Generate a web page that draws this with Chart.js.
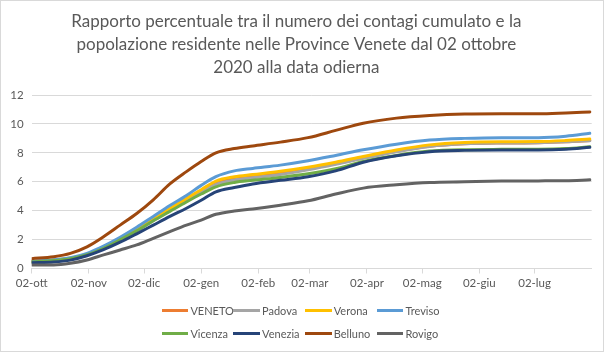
<!DOCTYPE html>
<html>
<head>
<meta charset="utf-8">
<title>Contagi Province Venete</title>
<script src="https://cdn.jsdelivr.net/npm/chart.js"></script>
<style>
  body { margin: 0; background: #fff; }
  #wrap { position: relative; width: 604px; height: 352px; box-sizing: border-box; border: 1px solid #d9d9d9; background: #fff; }
  canvas { display: block; }
  #legend { position: absolute; left: 160.7px; top: 298.6px; display: grid; grid-template-columns: repeat(4, 71.7px); grid-auto-rows: 22.7px; }
  #legend .item { display: flex; align-items: center; font-family: Lato, sans-serif; font-size: 11px; color: #595959; white-space: nowrap; }
  #legend .swatch { width: 26.7px; height: 3px; margin-right: 2px; flex: none; }
</style>
</head>
<body>
<div id="wrap">
  <canvas id="chart" width="602" height="350"></canvas>
  <div id="legend"></div>
</div>
<script>
// giorni trascorsi dal 02-ott-2020
const days = [0, 12, 21, 30, 39, 48, 57, 66, 75, 84, 92, 100, 110, 120, 135, 150, 165, 180, 198, 216, 235, 255, 275, 290, 303];

const tickDays = [0, 31, 61, 92, 123, 151, 182, 212, 243, 273];
const tickLabels = ['02-ott', '02-nov', '02-dic', '02-gen', '02-feb', '02-mar', '02-apr', '02-mag', '02-giu', '02-lug'];

const veneto  = [0.48, 0.56, 0.70, 0.95, 1.40, 2.00, 2.65, 3.35, 4.05, 4.75, 5.35, 5.90, 6.20, 6.35, 6.58, 6.88, 7.25, 7.65, 8.10, 8.45, 8.62, 8.68, 8.70, 8.76, 8.85];
const padova  = [0.46, 0.54, 0.68, 0.93, 1.38, 1.97, 2.62, 3.30, 4.00, 4.68, 5.28, 5.82, 6.12, 6.28, 6.50, 6.82, 7.20, 7.62, 8.08, 8.44, 8.62, 8.68, 8.70, 8.76, 8.84];
const verona  = [0.50, 0.58, 0.72, 0.98, 1.45, 2.05, 2.72, 3.45, 4.15, 4.85, 5.45, 6.05, 6.35, 6.50, 6.72, 7.00, 7.35, 7.75, 8.20, 8.55, 8.72, 8.77, 8.78, 8.85, 8.95];
const treviso = [0.50, 0.60, 0.75, 1.05, 1.55, 2.16, 2.85, 3.60, 4.35, 5.05, 5.75, 6.35, 6.75, 6.92, 7.15, 7.45, 7.82, 8.21, 8.60, 8.88, 9.00, 9.05, 9.05, 9.15, 9.35];
const vicenza = [0.45, 0.55, 0.68, 0.95, 1.40, 1.98, 2.60, 3.30, 3.95, 4.60, 5.15, 5.65, 5.95, 6.10, 6.30, 6.55, 6.90, 7.40, 7.82, 8.12, 8.22, 8.24, 8.25, 8.30, 8.42];
const venezia = [0.40, 0.45, 0.58, 0.88, 1.30, 1.82, 2.40, 3.00, 3.60, 4.17, 4.72, 5.30, 5.60, 5.85, 6.10, 6.35, 6.75, 7.35, 7.80, 8.08, 8.17, 8.20, 8.20, 8.25, 8.38];
const belluno = [0.68, 0.82, 1.05, 1.50, 2.20, 3.00, 3.80, 4.75, 5.85, 6.70, 7.40, 8.00, 8.30, 8.48, 8.74, 9.05, 9.55, 10.05, 10.40, 10.58, 10.68, 10.70, 10.70, 10.76, 10.83];
const rovigo  = [0.25, 0.25, 0.36, 0.59, 0.94, 1.28, 1.63, 2.09, 2.55, 3.00, 3.35, 3.75, 3.98, 4.12, 4.38, 4.68, 5.15, 5.56, 5.79, 5.95, 6.00, 6.05, 6.06, 6.07, 6.13];

const names  = ['VENETO', 'Padova', 'Verona', 'Treviso', 'Vicenza', 'Venezia', 'Belluno', 'Rovigo'];
const series = [veneto, padova, verona, treviso, vicenza, venezia, belluno, rovigo];
const colors = ['#ED7D31', '#A5A5A5', '#FFC000', '#5B9BD5', '#70AD47', '#264478', '#9E480E', '#636363'];

const datasets = names.map((name, i) => ({
  label: name,
  data: days.map((d, j) => ({ x: d, y: series[i][j] })),
  borderColor: colors[i],
  backgroundColor: colors[i],
  borderWidth: 3,
  pointRadius: 0,
  cubicInterpolationMode: 'monotone',
  borderCapStyle: 'round',
  borderJoinStyle: 'round',
  order: names.length - i   // later series on top, as in the original
}));

// legend in HTML so it can sit in two rows of four
const htmlLegend = {
  id: 'htmlLegend',
  afterUpdate(chart) {
    const box = document.getElementById('legend');
    box.innerHTML = '';
    chart.data.datasets.forEach(ds => {
      const item = document.createElement('div');
      item.className = 'item';
      const sw = document.createElement('span');
      sw.className = 'swatch';
      sw.style.background = ds.borderColor;
      item.appendChild(sw);
      item.appendChild(document.createTextNode(ds.label));
      box.appendChild(item);
    });
  }
};

const textColor = '#595959';
const gridColor = '#d9d9d9';

new Chart(document.getElementById('chart'), {
  type: 'line',
  data: { datasets },
  plugins: [htmlLegend],
  options: {
    responsive: false,
    animation: false,
    layout: { padding: { left: 0, right: 11.3, top: 0, bottom: 58.5 } },
    plugins: {
      legend: { display: false },
      tooltip: { enabled: false },
      title: {
        display: true,
        text: [
          'Rapporto percentuale tra il numero dei contagi cumulato e la',
          'popolazione residente nelle Province Venete dal 02 ottobre',
          '2020 alla data odierna'
        ],
        color: textColor,
        font: { family: 'Lato', size: 17, weight: 'normal', lineHeight: '23px' },
        padding: { top: 9, bottom: 16 }
      }
    },
    scales: {
      x: {
        type: 'linear',
        min: 0,
        max: 304,
        afterBuildTicks: scale => { scale.ticks = tickDays.map(v => ({ value: v })); },
        afterFit: scale => { scale.height = 24; },
        ticks: {
          autoSkip: false,
          maxRotation: 0,
          padding: 3,
          color: textColor,
          font: { family: 'Lato', size: 11.5 },
          callback: v => tickLabels[tickDays.indexOf(v)]
        },
        grid: { drawOnChartArea: false, drawTicks: true, tickLength: 5, color: gridColor },
        border: { display: true, color: gridColor }
      },
      y: {
        min: 0,
        max: 12,
        afterFit: scale => { scale.width = 30.7; },
        ticks: { stepSize: 2, padding: 8, color: textColor, font: { family: 'Lato', size: 11.5 } },
        grid: { color: gridColor, drawTicks: false },
        border: { display: false }
      }
    }
  }
});
</script>
</body>
</html>
